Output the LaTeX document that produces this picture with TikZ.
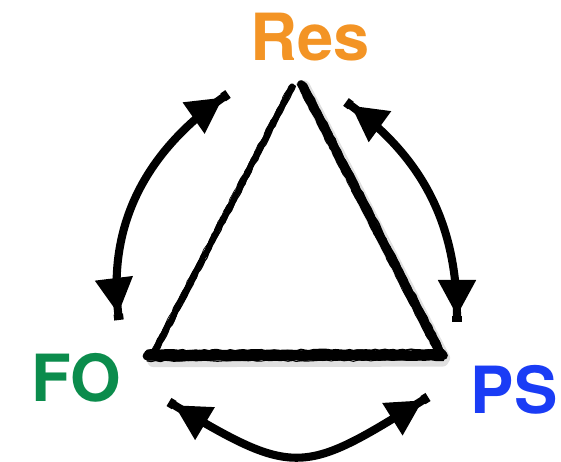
\documentclass[tikz,border=0pt]{standalone}
\usepackage{fontspec}
\usetikzlibrary{arrows.meta,calc,decorations.pathmorphing}
\newfontfamily\labelfont{TeX Gyre Heros}
\definecolor{ResOrange}{RGB}{243,148,37}
\definecolor{FOGreen}{RGB}{11,140,76}
\definecolor{PSBlue}{RGB}{26,60,245}
\tikzset{
  corner/.style={font=\labelfont\bfseries\fontsize{37}{37}\selectfont,inner sep=0pt},
  brush/.style={line width=#1,line cap=round,decorate,
    decoration={random steps,segment length=2.5pt,amplitude=.4pt}},
  cycle arrow/.style={line width=4.6pt,
    {Rectangle[length=1.2mm,width=1.9mm,sep=0pt]Triangle[length=7.2mm,width=7.2mm,sep=0pt]}-{Triangle[length=7.2mm,width=7.2mm,sep=0pt]Rectangle[length=1.2mm,width=1.9mm,sep=0pt]}}
}

\begin{document}
\begin{tikzpicture}
\pgfmathsetseed{7}
\useasboundingbox (0,0) rectangle (11.22,9.24);
% labels at the three corners
\node[corner,ResOrange] (res) at (6.2,8.5) {Res};
\node[corner,FOGreen] (fo) at (1.52,1.68) {FO};
\node[corner,PSBlue] (ps) at (10.28,1.44) {PS};
% triangle corners
\coordinate (topL) at (5.84,7.52);
\coordinate (topR) at (6.02,7.56);
\coordinate (botL) at (3.04,2.12);
\coordinate (botR) at (8.82,2.13);
% soft shadow under the strokes
\draw[black!12,line width=7pt,line cap=round] ($(topR)+(.06,-.05)$) -- ($(botR)+(.06,-.05)$);
\draw[black!12,line width=7pt,line cap=round] ($(botL)+(.03,-.1)$) -- ($(botR)+(.03,-.1)$);
% brushed triangle
\foreach \d/\w in {0/3pt,.04/1.6pt,-.035/1.2pt,.07/.7pt,-.06/.4pt}{
  \draw[brush=\w] ($(topL)+(\d,0)$) -- ($(botL)+(\d,0)$);}
\foreach \d/\w in {0/4.4pt,.05/3pt,-.045/1.6pt,.1/1pt,-.08/.5pt}{
  \draw[brush=\w] ($(topR)+(\d,0)$) -- ($(botR)+(\d,0)$);}
\foreach \d/\w in {0/5pt,.06/3pt,-.06/2pt,.11/1pt,-.1/.6pt}{
  \draw[brush=\w] ($(botL)+(-.1,\d)$) -- ($(botR)+(.05,\d)$);}
% arrow ends
\coordinate (a1) at (4.56,7.36);
\coordinate (a2) at (2.38,2.84);
\coordinate (b1) at (6.92,7.2);
\coordinate (b2) at (9.14,2.8);
\coordinate (c1) at (3.38,1.2);
\coordinate (c2) at (8.56,1.3);
% exchange arrows
\draw[cycle arrow] (a1) to[out=215,in=97] (a2);
\draw[cycle arrow] (b1) to[out=-36,in=90] (b2);
\draw[cycle arrow] (c1) to[out=-31,in=212,looseness=1.45] (c2);
\end{tikzpicture}
\end{document}
